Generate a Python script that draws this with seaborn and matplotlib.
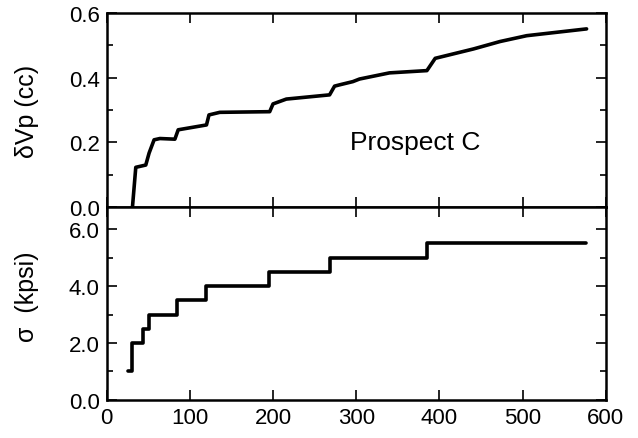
import numpy as np
import pandas as pd
import matplotlib
matplotlib.use("Agg")
import matplotlib.pyplot as plt
import seaborn as sns
from matplotlib.ticker import MultipleLocator, FormatStrFormatter

# Datos
t_vol = [31, 35, 47, 51, 57, 64, 82, 86, 120, 123, 136, 196, 200, 216, 268, 274,
         280, 296, 304, 340, 385, 395, 441, 473, 505, 577]
dvp = [0.0, 0.123, 0.13, 0.167, 0.208, 0.212, 0.21, 0.239, 0.254, 0.285, 0.293,
       0.295, 0.319, 0.334, 0.347, 0.374, 0.378, 0.388, 0.396, 0.415, 0.422,
       0.46, 0.489, 0.512, 0.530, 0.551]

t_sigma = [26, 31, 44, 51, 84, 119, 195, 268, 385, 576]
sigma = [1.0, 2.0, 2.5, 3.0, 3.5, 4.0, 4.5, 5.0, 5.5, 5.5]

sns.set_style("ticks")
plt.rcParams['font.family'] = ['Liberation Sans', 'DejaVu Sans']
plt.rcParams['text.color'] = 'black'
plt.rcParams['axes.labelcolor'] = 'black'
plt.rcParams['xtick.color'] = 'black'
plt.rcParams['ytick.color'] = 'black'

fig = plt.figure(figsize=(6.38, 4.39), dpi=100)
ax1 = fig.add_axes([0.1672, 0.526, 0.7822, 0.442])
ax2 = fig.add_axes([0.1672, 0.0866, 0.7822, 0.4394])

sns.lineplot(x=t_vol, y=dvp, ax=ax1, color="black", linewidth=2.6, sort=False)
sns.lineplot(x=t_sigma, y=sigma, ax=ax2, color="black", linewidth=2.6,
             drawstyle="steps-post", sort=False)

for ax in (ax1, ax2):
    ax.set_xlim(0, 600)
    ax.xaxis.set_major_locator(MultipleLocator(100))
    ax.tick_params(which="both", direction="in", top=True, right=True, width=1.2)
    ax.tick_params(which="major", length=7, labelsize=16, pad=5)
    ax.tick_params(which="minor", length=4)
    for s in ax.spines.values():
        s.set_linewidth(1.8)
        s.set_color("black")

ax1.set_ylim(0, 0.6)
ax1.yaxis.set_major_locator(MultipleLocator(0.2))
ax1.yaxis.set_minor_locator(MultipleLocator(0.1))
ax1.yaxis.set_major_formatter(FormatStrFormatter("%.1f"))
ax1.tick_params(labelbottom=False)
ax1.set_ylabel("δVp (cc)", fontsize=18)
ax1.text(371, 0.2, "Prospect C", fontsize=19, ha="center", va="center")

ax2.set_ylim(0, 6.77)
ax2.yaxis.set_major_locator(MultipleLocator(2.0))
ax2.yaxis.set_minor_locator(MultipleLocator(1.0))
ax2.yaxis.set_major_formatter(FormatStrFormatter("%.1f"))
ax2.set_ylabel("σ  (kpsi)", fontsize=18)

ax1.yaxis.set_label_coords(-0.136, 0.5)
ax2.yaxis.set_label_coords(-0.136, 0.54)

fig.savefig("out.png", dpi=100)
